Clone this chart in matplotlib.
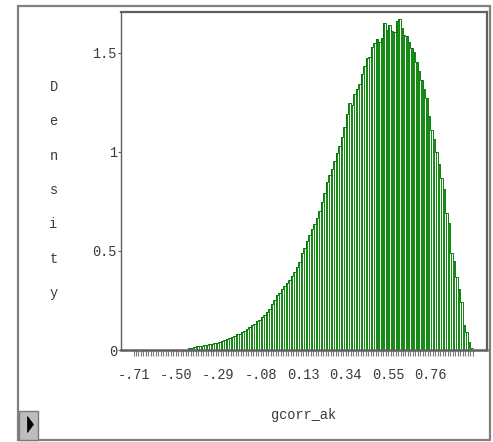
import numpy as np
import matplotlib
matplotlib.use("Agg")
import matplotlib.pyplot as plt
from matplotlib.patches import Rectangle, Polygon

# Histogram of gcorr_ak: 136 equal-width bins spanning [-0.71, 0.97]
bin_lo, bin_hi, n_bins = -0.71, 0.97, 136
density = [0.0] * 22 + [
    0.010, 0.012, 0.014, 0.018, 0.020, 0.022, 0.024, 0.027, 0.030, 0.031,
    0.033, 0.036, 0.040, 0.045, 0.052, 0.056, 0.062, 0.066, 0.072, 0.079,
    0.082, 0.090, 0.098, 0.104, 0.118, 0.126, 0.132, 0.147, 0.152, 0.168,
    0.176, 0.190, 0.205, 0.232, 0.250, 0.275, 0.290, 0.308, 0.322, 0.340,
    0.352, 0.372, 0.395, 0.418, 0.445, 0.488, 0.515, 0.552, 0.580, 0.612,
    0.635, 0.665, 0.700, 0.748, 0.790, 0.845, 0.885, 0.912, 0.955, 0.995,
    1.030, 1.075, 1.125, 1.190, 1.245, 1.238, 1.290, 1.315, 1.340, 1.392,
    1.435, 1.475, 1.480, 1.530, 1.548, 1.568, 1.555, 1.575, 1.652, 1.612,
    1.640, 1.610, 1.602, 1.660, 1.672, 1.622, 1.590, 1.582, 1.556, 1.525,
    1.502, 1.452, 1.405, 1.360, 1.318, 1.272, 1.180, 1.110, 1.062, 1.000,
    0.940, 0.870, 0.810, 0.690, 0.640, 0.490, 0.450, 0.370, 0.310, 0.240,
    0.126, 0.090, 0.040, 0.010,
]

x_tick_values = [-0.71, -0.50, -0.29, -0.08, 0.13, 0.34, 0.55, 0.76]
x_tick_labels = ["-.71", "-.50", "-.29", "-.08", "0.13", "0.34", "0.55", "0.76"]
y_tick_values = [0, 0.5, 1, 1.5]
y_tick_labels = ["0", "0.5", "1", "1.5"]
x_title = "gcorr_ak"
y_title = "Density"

W, H = 493, 442
DPI = 100
FONT = "Liberation Mono"
FS = 9.8
TEXT_COLOR = "#3a3a3a"
AXIS_GREY = "#5f5f5f"

fig = plt.figure(figsize=(W / DPI, H / DPI), dpi=DPI)
fig.patch.set_facecolor("white")


def fx(px):
    return px / W


def fy(py):
    return 1 - py / H


# outer panel border
fig.add_artist(Rectangle((fx(17.5), fy(440)), fx(490) - fx(17.5), fy(5.5) - fy(440),
                         transform=fig.transFigure, fill=False,
                         edgecolor="#808080", linewidth=1.6))

# plotting area
left, right, top, bottom = 120.5, 486.5, 12.0, 350.0
ax = fig.add_axes([fx(left), fy(bottom), fx(right) - fx(left), fy(top) - fy(bottom)])

edges = np.linspace(bin_lo, bin_hi, n_bins + 1)
bw = edges[1] - edges[0]
ax.bar(edges[:-1] + 0.18 * bw, density, width=0.64 * bw, align="edge",
       facecolor="#168c16", edgecolor="none", linewidth=0)
# dark green outline along the bar tops
ax.stairs(density, edges, color="#007400", linewidth=0.65, baseline=None)

ax.set_xlim(-0.7744, 1.0375)
ax.set_ylim(0, 1.705)

ax.set_xticks(x_tick_values)
ax.set_xticklabels(x_tick_labels, fontfamily=FONT, fontsize=FS, color=TEXT_COLOR)
ax.set_xticks(edges, minor=True)
ax.tick_params(axis="x", which="both", direction="out", length=4.3, width=0.8,
               color="#7a7a7a", pad=9)

ax.set_yticks(y_tick_values)
ax.set_yticklabels(y_tick_labels, fontfamily=FONT, fontsize=FS, color=TEXT_COLOR)
ax.tick_params(axis="y", direction="out", length=2.2, width=0.8, color=AXIS_GREY, pad=0.5)

for side, lw in (("left", 1.0), ("top", 1.6), ("right", 1.6), ("bottom", 1.8)):
    ax.spines[side].set_color(AXIS_GREY)
    ax.spines[side].set_linewidth(lw)

# axis titles
fig.text(fx(304), fy(415), x_title, ha="center", va="center",
         fontfamily=FONT, fontsize=FS, color=TEXT_COLOR)
fig.text(fx(53.5), fy(190), "\n".join(y_title), ha="center", va="center",
         fontfamily=FONT, fontsize=FS, color=TEXT_COLOR, linespacing=2.85)

# small play button in the lower-left corner
fig.add_artist(Rectangle((fx(18.5), fy(439.5)), fx(38) - fx(18.5), fy(411) - fy(439.5),
                         transform=fig.transFigure, facecolor="#bdbdbd",
                         edgecolor="#7a7a7a", linewidth=1.0))
fig.add_artist(Polygon([(fx(27.5), fy(416.5)), (fx(33.5), fy(424.5)), (fx(27.5), fy(432.5))],
                       closed=True, transform=fig.transFigure,
                       facecolor="black", edgecolor="black", linewidth=0.5))

fig.savefig("out.png", dpi=DPI, facecolor="white")
